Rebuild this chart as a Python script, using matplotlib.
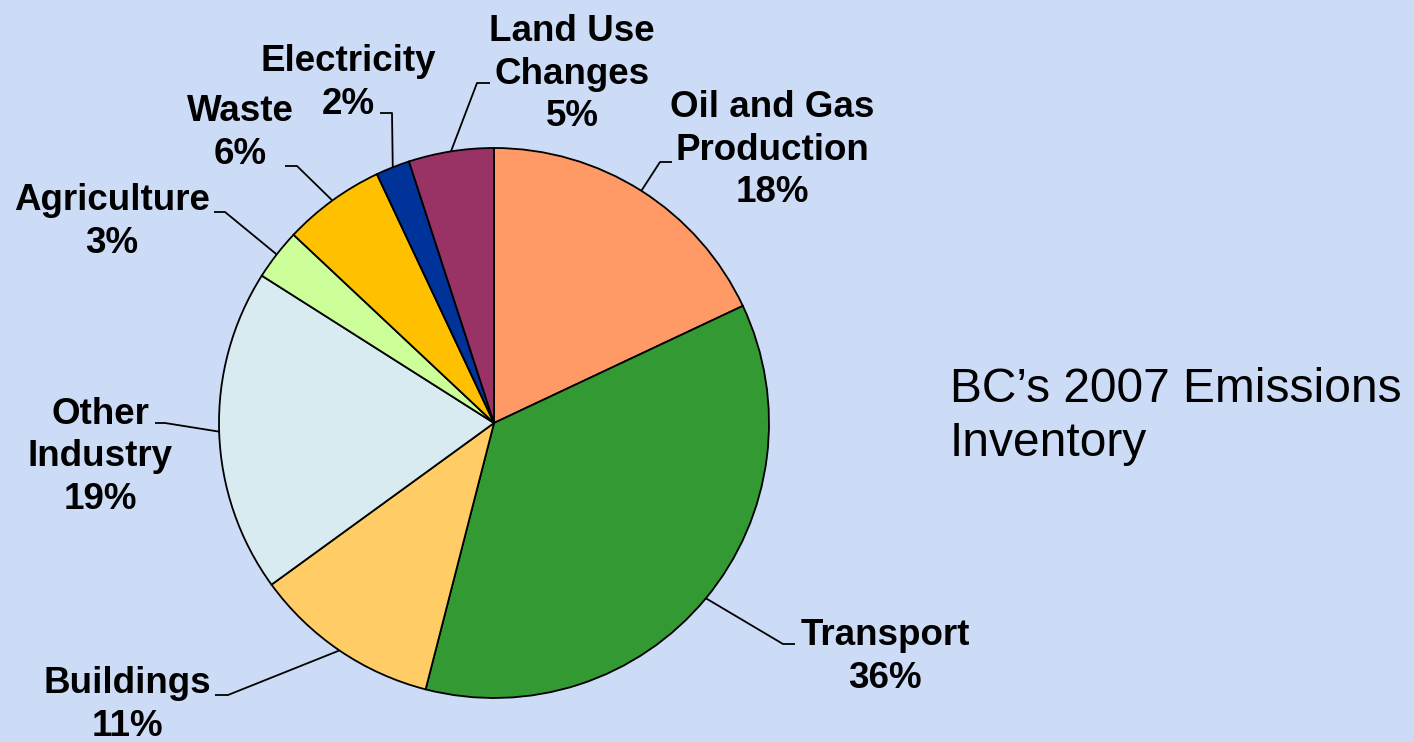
import numpy as np
import matplotlib
matplotlib.use("Agg")
from matplotlib import pyplot as plt

sectors = ["Oil and Gas\nProduction", "Transport", "Buildings", "Other\nIndustry",
           "Agriculture", "Waste", "Electricity", "Land Use\nChanges"]
shares = [18, 36, 11, 19, 3, 6, 2, 5]
colors = ["#FF9966", "#339933", "#FFCC66", "#D7EBF0",
          "#CCFF99", "#FFC000", "#003399", "#993366"]

# label layout in pixels (image coords, y down)
label_pos = [(772, 146), (885, 653), (127, 701), (100, 453),
             (112, 218), (240, 129), (348, 79), (572, 70)]
elbow_pos = [(660, 162), (783, 644), (228, 695), (165, 423),
             (225, 212), (297, 166), (392, 113), (477, 83)]
tail_dx = [12, 12, -13, -10, -11, -12, -12, 13]
line_gap = 42.5

W, H = 1414, 742
bg = "#CCDBF6"
cx, cy, r = 494, 423, 275

plt.rcParams["font.family"] = ["Liberation Sans", "DejaVu Sans"]

fig = plt.figure(figsize=(W / 100, H / 100), dpi=100, facecolor=bg)
ax = fig.add_axes([0, 0, 1, 1])
ax.set_facecolor(bg)

wedges, _ = ax.pie(shares, colors=colors, startangle=90, counterclock=False,
                   center=(cx, H - cy), radius=r, frame=True,
                   wedgeprops=dict(edgecolor="black", linewidth=1.3))
ax.set_xlim(0, W)
ax.set_ylim(0, H)
ax.set_aspect("equal")
ax.axis("off")

for w, name, val, (lx, ly), (ex, ey), dx in zip(wedges, sectors, shares, label_pos, elbow_pos, tail_dx):
    ang = np.deg2rad((w.theta1 + w.theta2) / 2)
    px = cx + r * np.cos(ang)
    py = (H - cy) + r * np.sin(ang)
    ax.plot([px, ex, ex + dx], [py, H - ey, H - ey], color="black", lw=1.3,
            solid_capstyle="butt")
    # one text per line so that neighbouring labels do not share a box
    lines = name.split("\n") + [f"{val}%"]
    top = ly - line_gap * (len(lines) - 1) / 2
    for i, s in enumerate(lines):
        ax.text(lx, H - (top + i * line_gap), s, ha="center", va="center_baseline",
                fontsize=26.5, fontweight="bold", color="black")

ax.text(950, H - 384, "BC\u2019s 2007 Emissions", ha="left", va="center_baseline",
        fontsize=34.5, color="black")
ax.text(950, H - 439, "Inventory", ha="left", va="center_baseline",
        fontsize=34.5, color="black")

fig.savefig("out.png", dpi=100, facecolor=bg)
